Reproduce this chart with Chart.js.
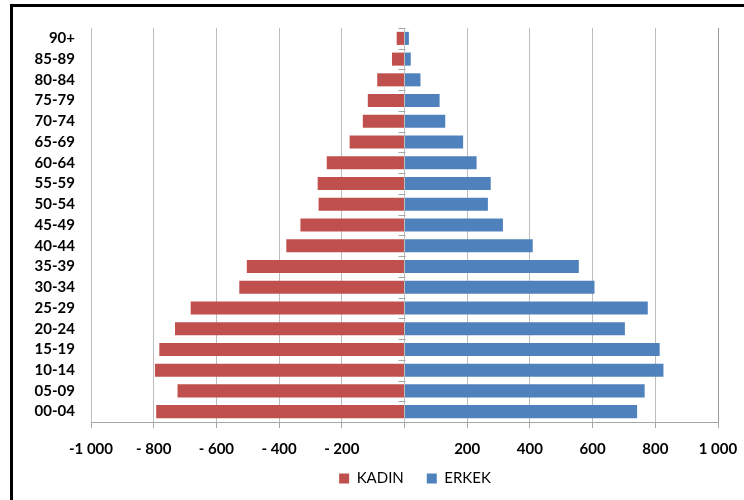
<!DOCTYPE html>
<html>
<head>
<meta charset="utf-8">
<script src="https://cdn.jsdelivr.net/npm/chart.js@4.4.1/dist/chart.umd.min.js"></script>
<style>
  html, body { margin: 0; padding: 0; background: #fff; overflow: hidden; }
  #wrap { position: relative; width: 744px; height: 500px; }
  #frame { position: absolute; left: 10px; top: 4px; width: 800px; height: 600px;
           border-left: 3px solid #000; border-top: 3px solid #000; }
  canvas { position: absolute; left: 0; top: 0; }
</style>
</head>
<body>
<div id="wrap">
  <div id="frame"></div>
  <canvas id="pyramid" width="744" height="500"></canvas>
</div>
<script>
// age groups, youngest first (drawn at the bottom)
const ageGroups = ["00-04", "05-09", "10-14", "15-19", "20-24", "25-29", "30-34", "35-39",
  "40-44", "45-49", "50-54", "55-59", "60-64", "65-69", "70-74", "75-79", "80-84", "85-89", "90+"];

const kadin = [792, 724, 796, 782, 732, 682, 527, 503, 377, 332, 274, 277, 248, 175, 133, 117, 87, 40, 25];
const erkek = [742, 766, 826, 814, 703, 776, 606, 556, 409, 314, 266, 275, 230, 187, 130, 112, 51, 20, 14];

const xTickLabels = ["-1 000", "- 800", "- 600", "- 400", "- 200", "", "200", "400", "600", "800", "1 000"];

const RED = "#C0504D";
const BLUE = "#4F81BD";

// short ticks on the zero line between age groups
const zeroTicks = {
  id: "zeroTicks",
  afterDatasetsDraw(chart) {
    const { ctx, scales: { x, y } } = chart;
    const x0 = Math.round(x.getPixelForValue(0)) + 0.5;
    ctx.save();
    ctx.strokeStyle = "#a6a6a6";
    ctx.lineWidth = 1;
    ctx.beginPath();
    for (let i = 0; i <= ageGroups.length; i++) {
      const py = Math.round(y.getPixelForValue(i - 0.5)) + 0.5;
      ctx.moveTo(x0 - 7, py);
      ctx.lineTo(x0, py);
    }
    ctx.stroke();
    ctx.restore();
  }
};

// legend sits a little right of the canvas centre and a bit higher
const legendShift = {
  id: "legendShift",
  afterLayout(chart) {
    const lg = chart.legend;
    lg.left += 50;
    lg.right += 50;
    lg.top -= 14;
    lg.bottom -= 14;
  }
};

new Chart(document.getElementById("pyramid"), {
  type: "bar",
  data: {
    labels: ageGroups,
    datasets: [
      {
        label: "KADIN",
        data: kadin.map(v => -v),
        backgroundColor: RED,
        barPercentage: 0.63,
        categoryPercentage: 1
      },
      {
        label: "ERKEK",
        data: erkek,
        backgroundColor: BLUE,
        barPercentage: 0.63,
        categoryPercentage: 1
      }
    ]
  },
  options: {
    indexAxis: "y",
    responsive: false,
    animation: false,
    layout: { padding: { left: 12, right: 26, top: 28, bottom: -10 } },
    scales: {
      x: {
        stacked: true,
        min: -1000,
        max: 1000,
        afterFit: s => {
          s.height = 40;
          s.paddingLeft = 0;
          s.paddingRight = 0;
        },
        ticks: {
          stepSize: 200,
          padding: 12,
          color: "#000",
          font: { family: "Lato", size: 15, weight: "bold" },
          callback: (v, i) => xTickLabels[i]
        },
        grid: {
          color: ctx => (ctx.tick && ctx.tick.value === 1000 ? "#9a9a9a" : "#bdbdbd"),
          tickLength: 6,
          tickColor: "#a6a6a6"
        },
        border: { display: true, color: "#a6a6a6" }
      },
      y: {
        stacked: true,
        reverse: true,
        afterFit: s => { s.width = 79; },
        grid: { display: false, drawTicks: false },
        border: { display: false },
        ticks: {
          autoSkip: false,
          padding: 16,
          color: "#000",
          font: { family: "Lato", size: 15, weight: "bold" }
        }
      }
    },
    plugins: {
      legend: {
        position: "bottom",
        labels: {
          boxWidth: 10,
          boxHeight: 10,
          padding: 23,
          color: "#000",
          font: { family: "Lato", size: 15 }
        }
      },
      tooltip: {
        callbacks: {
          label: c => c.dataset.label + ": " + Math.abs(c.raw)
        }
      }
    }
  },
  plugins: [zeroTicks, legendShift]
});
</script>
</body>
</html>
